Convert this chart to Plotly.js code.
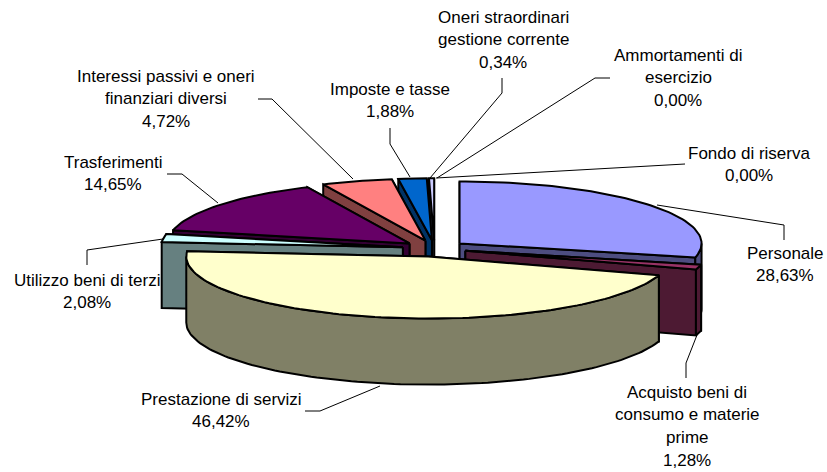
<!DOCTYPE html>
<html><head><meta charset="utf-8">
<script src="https://cdn.plot.ly/plotly-3.0.1.min.js"></script>
<style>html,body{margin:0;padding:0;background:#fff}#c{width:827px;height:472px}</style>
</head><body><div id="c"></div>
<script>
const categories=["Personale","Acquisto beni di consumo e materie prime","Prestazione di servizi","Utilizzo beni di terzi","Trasferimenti","Interessi passivi e oneri finanziari diversi","Imposte e tasse","Oneri straordinari gestione corrente","Ammortamenti di esercizio","Fondo di riserva"];
const values=[28.63,1.28,46.42,2.08,14.65,4.72,1.88,0.34,0,0];
const valueLabels=["28,63%","1,28%","46,42%","2,08%","14,65%","4,72%","1,88%","0,34%","0,00%","0,00%"];
const topColors=["#9999FF","#993366","#FFFFCC","#CCFFFF","#660066","#FF8080","#0066CC","#CCCCFF","#CCCCFF","#CCCCFF"];
const wallColors=["#4D4D80","#4D1A33","#808066","#668080","#330033","#804040","#003366","#666680","#666680","#666680"];
const labelLines=[["Personale"],["Acquisto beni di","consumo e materie","prime"],["Prestazione di servizi"],["Utilizzo beni di terzi"],["Trasferimenti"],["Interessi passivi e oneri","finanziari diversi"],["Imposte e tasse"],["Oneri straordinari","gestione corrente"],["Ammortamenti di","esercizio"],["Fondo di riserva"]];
const labelCenterX=[785,687,221,87,113,166,390,503,678,749];
const labelTopY=[253,392,399,280,162,76,89,17,55,153];
const leaderX=[[657,784,784],[697,686,686],[380,320,305],[163,87,87],[218,182,167],[353,272,258],[410,390,390],[430,502,502],[437,595,610],[436,673,685]];
const leaderY=[[205,225,240],[335,363,378],[386,411,411],[239,250,265],[203,174,174],[179,99,99],[177,144,128],[178,93,78],[178,78,78],[178,164,164]];
const drawOrder=[7,6,5,4,3,0,1,2];

const CX=434.5,CY=248.5,RX=242,RY=62,DEPTH=66,PULL=32;
const rad=d=>d*Math.PI/180;
const total=values.reduce((a,b)=>a+b,0);
let acc=0;
const slices=values.map(v=>{const a=acc/total*360;acc+=v;return {a,b:acc/total*360};});
function pt(ax,ay,deg,r=1){return [ax+RX*r*Math.sin(rad(deg)),ay-RY*r*Math.cos(rad(deg))];}
function poly(pts,fill,lw=2){return {type:'scatter',mode:'lines',x:pts.map(p=>p[0]),y:pts.map(p=>p[1]),fill:'toself',fillcolor:fill,line:{color:'#000',width:lw},hoverinfo:'skip',showlegend:false};}
function arc(ax,ay,a,b,dy=0){const n=Math.max(2,Math.ceil((b-a)/1.5));const o=[];for(let i=0;i<=n;i++){const p=pt(ax,ay,a+(b-a)*i/n);o.push([p[0],p[1]+dy]);}return o;}
function radialWall(ax,ay,deg,fill){const p=pt(ax,ay,deg);return poly([[ax,ay],p,[p[0],p[1]+DEPTH],[ax,ay+DEPTH],[ax,ay]],fill);}
const traces=[];
leaderX.forEach((xs,i)=>traces.push({type:'scatter',mode:'lines',x:xs,y:leaderY[i],line:{color:'#000',width:1},hoverinfo:'skip',showlegend:false}));
drawOrder.forEach(i=>{
  const s=slices[i],mid=(s.a+s.b)/2;
  const ax=CX+PULL*Math.sin(rad(mid)),ay=CY-PULL*RY/RX*Math.cos(rad(mid));
  const first=Math.sin(rad(mid))>0?s.a:s.b,second=Math.sin(rad(mid))>0?s.b:s.a;
  traces.push(radialWall(ax,ay,first,wallColors[i]));
  traces.push(radialWall(ax,ay,second,wallColors[i]));
  const l=Math.max(s.a,90),h=Math.min(s.b,270);
  if(h>l){const top=arc(ax,ay,l,h),bot=arc(ax,ay,l,h,DEPTH).reverse();traces.push(poly([...top,...bot,top[0]],wallColors[i]));}
  traces.push(poly([[ax,ay],...arc(ax,ay,s.a,s.b),[ax,ay]],topColors[i]));
});
const annotations=[];
const LH=22.7;
categories.forEach((c,i)=>{
  [...labelLines[i],valueLabels[i]].forEach((t,k)=>annotations.push({x:labelCenterX[i],y:labelTopY[i]+k*LH,xref:'x',yref:'y',text:t,showarrow:false,xanchor:'center',yanchor:'middle',font:{family:'"Liberation Sans",Arial,sans-serif',size:17,color:'#000'}}));
});
Plotly.newPlot('c',traces,{width:827,height:472,margin:{l:0,r:0,t:0,b:0},paper_bgcolor:'#fff',plot_bgcolor:'#fff',showlegend:false,
 xaxis:{range:[0,827],visible:false,fixedrange:true},yaxis:{range:[472,0],visible:false,fixedrange:true},annotations},{displayModeBar:false,staticPlot:true});
</script></body></html>
